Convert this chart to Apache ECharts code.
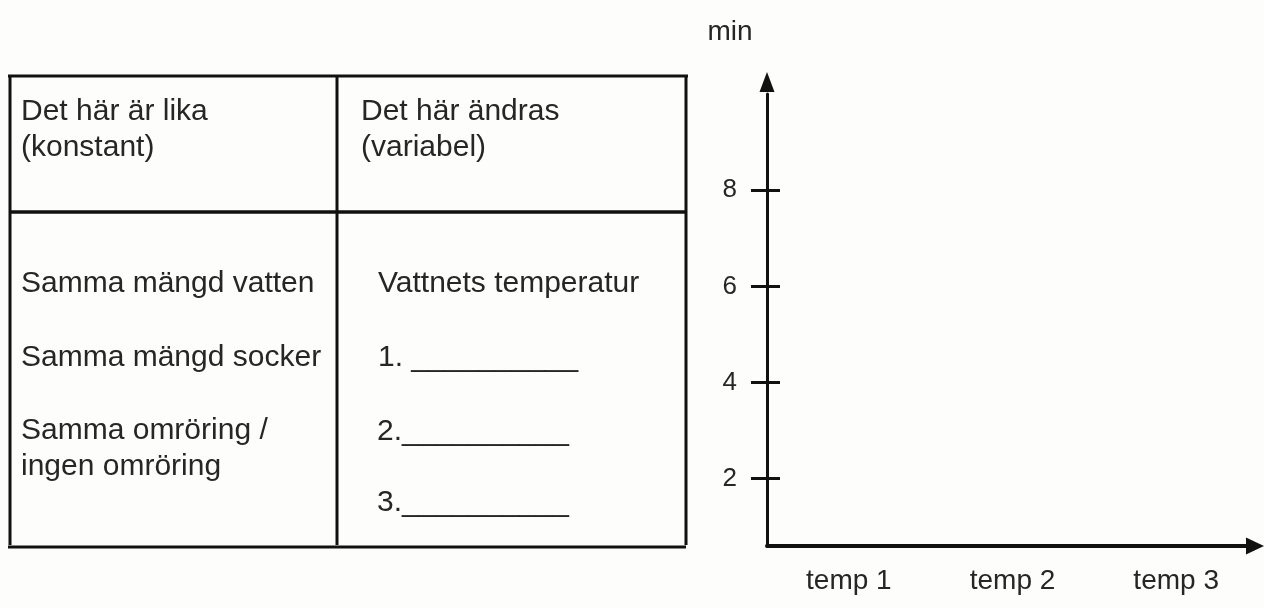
<!DOCTYPE html>
<html>
<head>
<meta charset="utf-8">
<script src="https://cdn.jsdelivr.net/npm/echarts@6/dist/echarts.min.js"></script>
<style>
  html, body { margin: 0; padding: 0; background: #fdfdfc; }
  #chart { width: 1264px; height: 608px; }
</style>
</head>
<body>
<div id="chart"></div>
<script>
// ---- data (worksheet: axes only, no measured values yet) ----
const categories = ['temp 1', 'temp 2', 'temp 3'];
const yTickValues = [2, 4, 6, 8];
const yAxisName = 'min';
const yMin = 0.6;
const yMax = 10;
const seriesValues = [];            // empty: nothing plotted in the reference

const headerLeft = ['Det här är lika', '(konstant)'];
const headerRight = ['Det här ändras', '(variabel)'];
const constantRows = [['Samma mängd vatten'], ['Samma mängd socker'], ['Samma omröring /', 'ingen omröring']];
const variableRows = ['Vattnets temperatur', '1. __________', '2.__________', '3.__________'];

// ---- styling / layout ----
const FONT = '"Liberation Sans", Arial, Helvetica, sans-serif';
const TEXT_COLOR = '#262626';
const LINE_COLOR = '#111';

function line(x1, y1, x2, y2, w) {
  return { type: 'line', shape: { x1, y1, x2, y2 }, style: { stroke: LINE_COLOR, lineWidth: w || 3 }, silent: true };
}
function txt(s, x, y, size) {
  return {
    type: 'text', x, y, silent: true,
    style: { text: s, fill: TEXT_COLOR, fontSize: size || 30, fontFamily: FONT, align: 'left', verticalAlign: 'middle' }
  };
}

const graphics = [];
// table frame
graphics.push(line(8, 76, 688, 76));
graphics.push(line(10, 76, 10, 545));
graphics.push(line(337, 76, 337, 545));
graphics.push(line(686, 76, 686, 545));
graphics.push(line(10, 212, 686, 212, 3.5));
graphics.push(line(8, 547, 686, 547));
// header
headerLeft.forEach((s, i) => graphics.push(txt(s, 21, 112 + i * 36)));
headerRight.forEach((s, i) => graphics.push(txt(s, 361, 112 + i * 36)));
// body
const leftRowY = [284, 358, 431];
constantRows.forEach((lines, r) => lines.forEach((s, i) => graphics.push(txt(s, 21, leftRowY[r] + i * 36))));
const rightRowX = [378, 378, 377, 377];
const rightRowY = [284, 358, 432, 503];
variableRows.forEach((s, r) => graphics.push(txt(s, rightRowX[r], rightRowY[r])));

const chart = echarts.init(document.getElementById('chart'), null, { renderer: 'canvas' });
chart.setOption({
  backgroundColor: '#fdfdfc',
  animation: false,
  grid: { left: 767, top: 94, width: 491, bottom: 62, containLabel: false },
  xAxis: {
    type: 'category',
    data: categories,
    boundaryGap: true,
    axisLine: {
      show: true, onZero: false,
      lineStyle: { color: LINE_COLOR, width: 4 },
      symbol: ['none', 'triangle'], symbolSize: [17, 18], symbolOffset: [0, -3]
    },
    axisTick: { show: false },
    axisLabel: { color: TEXT_COLOR, fontSize: 28, fontFamily: FONT, margin: 21 },
    splitLine: { show: false }
  },
  yAxis: [
    {
      type: 'value', position: 'left', min: yMin, max: yMax,
      name: yAxisName, nameLocation: 'end', nameGap: 62,
      nameTextStyle: { color: TEXT_COLOR, fontSize: 28, fontFamily: FONT, align: 'center', verticalAlign: 'middle', padding: [0, 74, 0, 0] },
      axisLine: {
        show: true, onZero: false,
        lineStyle: { color: LINE_COLOR, width: 3 },
        symbol: ['none', 'triangle'], symbolSize: [15, 20], symbolOffset: [0, 12]
      },
      axisTick: { show: true, inside: false, length: 16, lineStyle: { color: LINE_COLOR, width: 3 }, customValues: yTickValues },
      axisLabel: { color: TEXT_COLOR, fontSize: 26, fontFamily: FONT, margin: 30, customValues: yTickValues },
      splitLine: { show: false }
    },
    {
      type: 'value', position: 'left', min: yMin, max: yMax,
      axisLine: { show: false },
      axisTick: { show: true, inside: true, length: 13, lineStyle: { color: LINE_COLOR, width: 3 }, customValues: yTickValues },
      axisLabel: { show: false },
      splitLine: { show: false }
    }
  ],
  series: [{ type: 'line', data: seriesValues, xAxisIndex: 0, yAxisIndex: 0, showSymbol: false }],
  graphic: graphics
});
</script>
</body>
</html>
